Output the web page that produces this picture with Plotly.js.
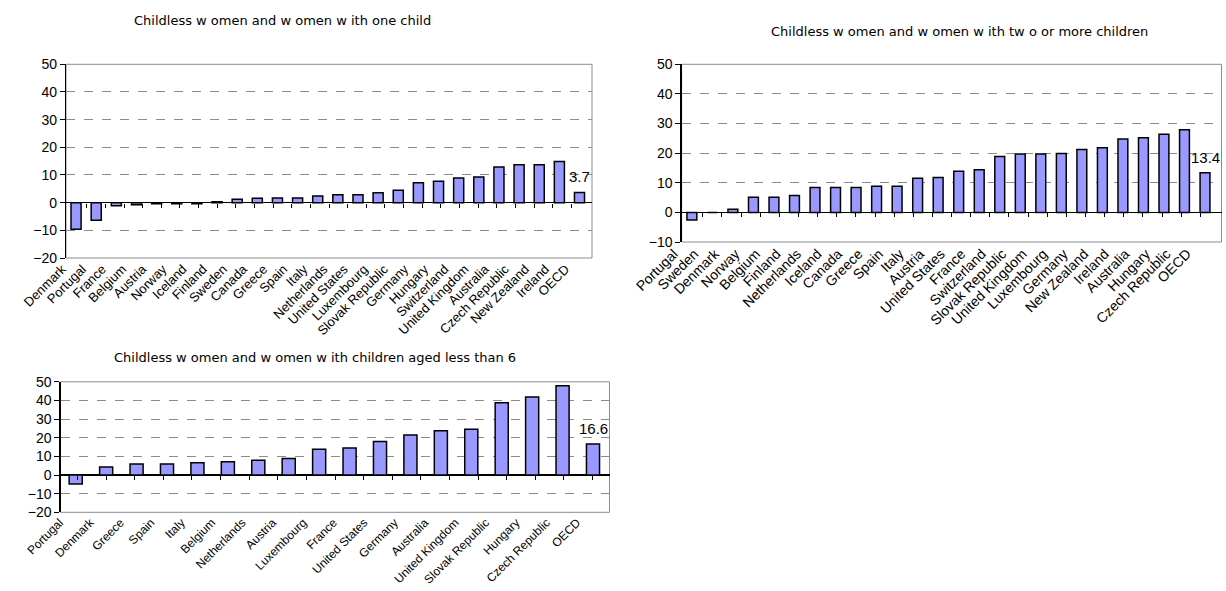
<!DOCTYPE html>
<html>
<head>
<meta charset="utf-8">
<script src="https://cdn.plot.ly/plotly-3.0.1.min.js"></script>
<style>html,body{margin:0;padding:0;background:#fff;}#chart{width:1226px;height:591px;}</style>
</head>
<body>
<div id="chart"></div>
<script>
// ---- Data ----
var title1 = "Childless w omen and w omen w ith one child";
var cats1 = ["Denmark","Portugal","France","Belgium","Austria","Norway","Iceland","Finland","Sweden","Canada","Greece","Spain","Italy","Netherlands","United States","Luxembourg","Slovak Republic","Germany","Hungary","Switzerland","United Kingdom","Australia","Czech Republic","New Zealand","Ireland","OECD"];
var vals1 = [-9.6,-6.4,-1.1,-0.8,-0.4,-0.4,-0.4,0.3,1.2,1.6,1.7,1.7,2.4,2.9,2.9,3.6,4.5,7.2,7.7,8.9,9.3,12.9,13.7,13.7,14.9,3.7];

var title2 = "Childless w omen and w omen w ith tw o or more children";
var cats2 = ["Portugal","Sweden","Denmark","Norway","Belgium","Finland","Netherlands","Iceland","Canada","Greece","Spain","Italy","Austria","United States","France","Switzerland","Slovak Republic","United Kingdom","Luxembourg","Germany","New Zealand","Ireland","Australia","Hungary","Czech Republic","OECD"];
var vals2 = [-2.6,0,1.1,5.1,5.1,5.7,8.4,8.4,8.4,8.8,8.8,11.5,11.8,13.9,14.4,18.9,19.7,19.7,19.9,21.2,21.8,24.8,25.2,26.4,27.9,13.4];

var title3 = "Childless w omen and w omen w ith children aged less than 6";
var cats3 = ["Portugal","Denmark","Greece","Spain","Italy","Belgium","Netherlands","Austria","Luxembourg","France","United States","Germany","Australia","United Kingdom","Slovak Republic","Hungary","Czech Republic","OECD"];
var vals3 = [-4.8,4.3,5.9,5.9,6.6,7.1,7.9,8.9,13.8,14.5,18.0,21.4,23.8,24.5,38.8,41.8,47.9,16.6];

var yRanges = [[-20,50],[-10,50],[-20,50]];

// ---- Layout geometry (pixels) ----
var W = 1226, H = 591;
var boxes = [
  {l:66,  r:592,  t:64.3, b:258,   title:{x:282, y:20},  shift:-14, bw:0.5,  lab:13},
  {l:681.6, r:1221.5, t:64.3, b:242, title:{x:959, y:31}, shift:-18, bw:0.48, lab:14},
  {l:60.5, r:609.5, t:381.8, b:512.3, title:{x:315, y:357}, shift:-16, bw:0.43, lab:12}
];
var FONT = "Liberation Sans, Arial, sans-serif";
var TFONT = "DejaVu Sans, Liberation Sans, Arial, sans-serif";
var cats = [cats1,cats2,cats3], vals = [vals1,vals2,vals3], titles=[title1,title2,title3];

var data = [], layout = {
  width: W, height: H, margin:{l:0,r:0,t:0,b:0},
  paper_bgcolor:"#fff", plot_bgcolor:"#fff", showlegend:false,
  font:{family:FONT, size:12, color:"#000"},
  annotations:[], shapes:[]
};

for (var k=0;k<3;k++){
  var n = k+1, bx = boxes[k];
  var xd = [bx.l/W, bx.r/W], yd = [1-bx.b/H, 1-bx.t/H];
  var yr = yRanges[k];
  var xa = "x"+(n===1?"":n), ya = "y"+(n===1?"":n);
  var xo = "x"+(n+3);
  data.push({type:"bar", x:cats[k], y:vals[k], xaxis:xa, yaxis:ya,
    width:bx.bw,
    marker:{color:"#9999FF", line:{color:"#000", width:1.5}}, hoverinfo:"x+y"});
  // invisible trace to carry zero-line tick marks
  data.push({type:"scatter", mode:"markers", x:cats[k], y:vals[k], xaxis:xo, yaxis:ya,
    marker:{opacity:0}, hoverinfo:"skip"});
  layout["xaxis"+(n===1?"":n)] = {domain:xd, anchor:ya, type:"category",
    tickangle:-45, ticks:"", showline:false, showgrid:false, zeroline:false,
    ticklabelshift:bx.shift, tickfont:{family:FONT,size:bx.lab,color:"#000"},
    automargin:false, fixedrange:true};
  var zeroFrac = yd[0] + (0-yr[0])/(yr[1]-yr[0])*(yd[1]-yd[0]);
  layout["xaxis"+(n+3)] = {overlaying:xa, anchor:"free", position:zeroFrac, type:"category",
    domain:xd, ticks:"outside", ticklen:4, tickwidth:1, tickcolor:"#000", tickson:"boundaries",
    showticklabels:false, showline:false, showgrid:false, zeroline:false, fixedrange:true};
  layout["yaxis"+(n===1?"":n)] = {domain:yd, anchor:xa, range:yr, dtick:10, tick0:0,
    ticks:"outside", ticklen:5, tickcolor:"#000", tickwidth:1,
    showline:true, linecolor:"#000", linewidth:1.2,
    showgrid:true, gridcolor:"#8c8c8c", griddash:"dash", gridwidth:1,
    zeroline:true, zerolinecolor:"#000", zerolinewidth:1.2,
    tickfont:{family:FONT,size:14,color:"#000"}, automargin:false, fixedrange:true};
  layout.shapes.push({type:"rect", xref:xa+" domain", yref:ya+" domain", x0:0,x1:1,y0:0,y1:1,
    line:{color:"#8c8c8c", width:1}, layer:"below"});
  var last = cats[k].length-1;
  layout.annotations.push({xref:xa, yref:ya, x:cats[k][last], y:vals[k][last],
    text:String(vals[k][last]), showarrow:false, yanchor:"bottom", yshift:5,
    font:{family:FONT,size:15,color:"#000"}});
  layout.annotations.push({xref:"paper", yref:"paper", x:bx.title.x/W, y:1-bx.title.y/H,
    xanchor:"center", yanchor:"middle", text:titles[k], showarrow:false,
    font:{family:TFONT,size:13,color:"#000"}});
}

Plotly.newPlot("chart", data, layout, {staticPlot:true, displayModeBar:false});
</script>
</body>
</html>
